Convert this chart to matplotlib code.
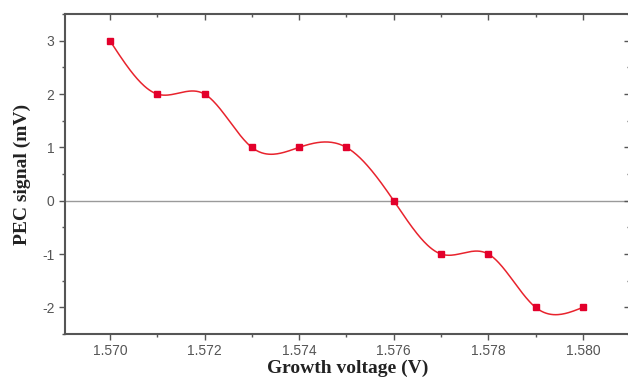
import numpy as np
import matplotlib
matplotlib.use("Agg")
import matplotlib.pyplot as plt
from matplotlib.ticker import MultipleLocator

# measured PEC signal vs. growth voltage
voltage = [1.570, 1.571, 1.572, 1.573, 1.574, 1.575, 1.576, 1.577, 1.578, 1.579, 1.580]
signal = [3, 2, 2, 1, 1, 1, 0, -1, -1, -2, -2]


def natural_spline(x, y, n=400):
    """Natural cubic spline through (x, y), evaluated on n points."""
    x = np.asarray(x, float)
    y = np.asarray(y, float)
    k = len(x)
    h = np.diff(x)
    A = np.zeros((k, k))
    b = np.zeros(k)
    A[0, 0] = A[-1, -1] = 1
    for i in range(1, k - 1):
        A[i, i - 1] = h[i - 1]
        A[i, i] = 2 * (h[i - 1] + h[i])
        A[i, i + 1] = h[i]
        b[i] = 6 * ((y[i + 1] - y[i]) / h[i] - (y[i] - y[i - 1]) / h[i - 1])
    M = np.linalg.solve(A, b)
    xs = np.linspace(x[0], x[-1], n)
    idx = np.clip(np.searchsorted(x, xs) - 1, 0, k - 2)
    x0, x1 = x[idx], x[idx + 1]
    hh = x1 - x0
    ys = (M[idx] * (x1 - xs) ** 3 / (6 * hh) + M[idx + 1] * (xs - x0) ** 3 / (6 * hh)
          + (y[idx] / hh - M[idx] * hh / 6) * (x1 - xs)
          + (y[idx + 1] / hh - M[idx + 1] * hh / 6) * (xs - x0))
    return xs, ys


fig = plt.figure(figsize=(6.28, 3.80), dpi=100)
# right edge of the frame sits just past the image border
ax = fig.add_axes([0.1035, 0.121, 0.9, 0.842])

ax.axhline(0, color='#9a9a9a', lw=1.0, zorder=1)
xs, ys = natural_spline(voltage, signal)
ax.plot(xs, ys, color='#e8232d', lw=1.1, zorder=2)
ax.plot(voltage, signal, ls='none', marker='s', ms=4.5, color='#e3002b', zorder=3)

ax.set_xlim(1.56905, 1.58100)
ax.set_ylim(-2.5, 3.5)

ax.xaxis.set_major_locator(MultipleLocator(0.002))
ax.xaxis.set_minor_locator(MultipleLocator(0.001))
ax.yaxis.set_major_locator(MultipleLocator(1))
ax.yaxis.set_minor_locator(MultipleLocator(0.5))
ax.xaxis.set_major_formatter(plt.FormatStrFormatter('%.3f'))
ax.yaxis.set_major_formatter(plt.FormatStrFormatter('%d'))

ax.tick_params(which='both', direction='out', colors='#555555', labelcolor='#555555',
               labelsize=10, top=True, right=True)
ax.tick_params(which='major', length=4, width=1)
ax.tick_params(which='minor', length=2.5, width=1)
# top and right ticks point into the plot
for t in ax.xaxis.get_major_ticks() + ax.xaxis.get_minor_ticks():
    t.tick2line.set_marker(3)
for t in ax.yaxis.get_major_ticks() + ax.yaxis.get_minor_ticks():
    t.tick2line.set_marker(0)
for lbl in ax.get_xticklabels() + ax.get_yticklabels():
    lbl.set_family('Liberation Sans')

for s in ax.spines.values():
    s.set_color('#555555')
    s.set_linewidth(1.5)

label_font = dict(family='Liberation Serif', fontweight='bold', fontsize=14, color='#222222')
ax.set_xlabel('Growth voltage (V)', labelpad=1, **label_font)
ax.set_ylabel('PEC signal (mV)', labelpad=8, **label_font)

fig.savefig('out.png', dpi=100)
